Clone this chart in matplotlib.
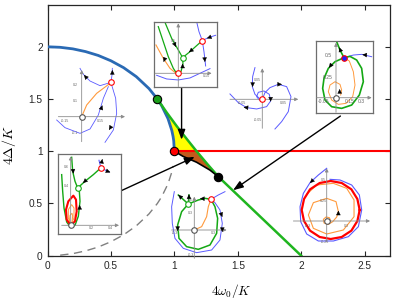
import numpy as np
import matplotlib.pyplot as plt

plt.rcParams['font.family'] = ['Liberation Sans', 'DejaVu Sans']
plt.rcParams['mathtext.fontset'] = 'cm'

W, H = 395, 300

# ---- main phase diagram, x = 4w0/K, y = 4Delta/K ----
hopf_x = [0.0, 0.1, 0.2, 0.3, 0.4, 0.5, 0.6, 0.7, 0.8, 0.866, 0.9, 0.95, 0.98, 0.99, 0.995, 1.0]
hopf_y = [2.0, 1.995, 1.98, 1.954, 1.917, 1.866, 1.8, 1.714, 1.6, 1.5, 1.436, 1.312, 1.199, 1.141, 1.1, 1.0]
dash_x = [0.1, 0.2, 0.3, 0.4, 0.5, 0.6, 0.7, 0.8, 0.866, 0.9, 0.95, 0.98, 0.99]
dash_y = [0.005, 0.02, 0.046, 0.083, 0.134, 0.2, 0.286, 0.4, 0.5, 0.564, 0.688, 0.801, 0.859]
sn_x = [0.866, 0.94, 1.02, 1.10, 1.175, 1.26, 1.348, 2.0]
sn_y = [1.5, 1.37, 1.238, 1.114, 1.0, 0.877, 0.755, 0.0]
hom_x = [1.0, 1.07, 1.175, 1.28, 1.348]
hom_y = [1.0, 0.95, 0.895, 0.82, 0.755]
red_x = [1.0, 2.7]
red_y = [1.0, 1.0]
dot_x = [0.866, 1.0, 1.348]
dot_y = [1.5, 1.0, 0.755]
dot_c = ['#1a9e1a', 'red', 'black']
arrow_tail = [(1.057, 1.611), (0.579, 0.621), (2.309, 1.337)]
arrow_head = [(1.057, 1.11), (1.161, 0.946), (1.463, 0.627)]
xt = [0, 0.5, 1, 1.5, 2, 2.5]
xt_lab = ['0', '0.5', '1', '1.5', '2', '2.5']
yt = [0, 0.5, 1, 1.5, 2]
yt_lab = ['0', '0.5', '1', '1.5', '2']

fig = plt.figure(figsize=(W / 100, H / 100), dpi=100)
ax = fig.add_axes([47.5 / W, 1 - 255.7 / H, 342.5 / W, 250.7 / H])

yel_x = hopf_x[9:] + [1.175] + sn_x[3:0:-1]
yel_y = hopf_y[9:] + [1.0] + sn_y[3:0:-1]
ax.fill(yel_x, yel_y, color='#ffff00', lw=0, zorder=1)
brn_x = [1.0] + sn_x[4:7] + hom_x[3:0:-1]
brn_y = [1.0] + sn_y[4:7] + hom_y[3:0:-1]
ax.fill(brn_x, brn_y, color='#c25a1c', lw=0, zorder=1)
ax.plot(dash_x, dash_y, color='#808080', lw=1, dashes=(6, 4), zorder=2)
ax.plot(red_x, red_y, color='red', lw=1.5, zorder=3)
ax.plot(hopf_x, hopf_y, color='#2a6ab4', lw=2, zorder=4)
ax.plot(sn_x, sn_y, color='#1fb51f', lw=1.8, zorder=4)
ax.plot(hom_x, hom_y, color='k', lw=1.2, zorder=4)
for x, y, c in zip(dot_x, dot_y, dot_c):
    ax.plot(x, y, 'o', ms=6, mfc=c, mec='k', mew=0.8, zorder=6)
for t, h in zip(arrow_tail, arrow_head):
    ax.annotate('', xy=h, xytext=t, zorder=5,
                arrowprops=dict(arrowstyle='-|>,head_length=0.6,head_width=0.22',
                                color='k', lw=1, mutation_scale=10, shrinkA=0, shrinkB=0))

ax.set_xlim(0, 2.7)
ax.set_ylim(0, 2.4)
ax.set_xticks(xt)
ax.set_xticklabels(xt_lab)
ax.set_yticks(yt)
ax.set_yticklabels(yt_lab)
ax.tick_params(direction='in', top=True, right=True, length=3.5, width=0.8,
               labelsize=7.3, colors='#262626', pad=3.5)
for s in ax.spines.values():
    s.set_linewidth(0.9)
    s.set_color('#262626')
ax.set_xlabel(r'$4\omega_0/K$', fontsize=9.5)
ax.xaxis.set_label_coords(0.538, -0.103)
ax.set_ylabel(r'$4\Delta/K$', fontsize=10)
ax.yaxis.set_label_coords(-0.085, 0.44)

# ---- phase-portrait insets (local phase-plane units) ----
S = 100 / 3  # pixels per inset unit
BLUE, GREEN, ORANGE = '#5a5aff', '#14a814', '#ff9a3c'


def inset(ox, oy, xl, yl, box=False):
    l, r = ox + xl[0] * S, ox + xl[1] * S
    t, b = oy - yl[1] * S, oy - yl[0] * S
    a = fig.add_axes([l / W, 1 - b / H, (r - l) / W, (b - t) / H])
    a.set_xlim(xl)
    a.set_ylim(yl)
    a.set_xticks([])
    a.set_yticks([])
    if box:
        for s in a.spines.values():
            s.set_color('#6e6e6e')
            s.set_linewidth(0.9)
    else:
        a.set_axis_off()
    return a


def frame(a, xr, yr):
    for tail, head in [((xr[0], 0), (xr[1], 0)), ((0, yr[0]), (0, yr[1]))]:
        a.annotate('', xy=head, xytext=tail,
                   arrowprops=dict(arrowstyle='-|>', color='#8c8c8c', lw=0.6,
                                   mutation_scale=5, shrinkA=0, shrinkB=0))


def heads(a, arrows):
    for x, y, dx, dy in arrows:
        a.annotate('', xy=(x + dx, y + dy), xytext=(x, y), zorder=6,
                   arrowprops=dict(arrowstyle='-|>', color='k', lw=0.3,
                                   mutation_scale=7, shrinkA=0, shrinkB=0))


def labels(a, items, size=2.6):
    for x, y, s in items:
        a.text(x, y, s, fontsize=size, color='#666666', ha='center', va='center')


def circ(a, x, y, c, fill='white'):
    a.plot(x, y, 'o', ms=4, mfc=fill, mec=c, mew=0.8, zorder=5)


# inset 1 (upper left)
i1_or_x = [0, 0.15, 0.45, 0.85]
i1_or_y = [0, 0.35, 0.70, 1.0]
i1_b1_x = [-0.05, 0.05, 0.25, 0.55, 0.88]
i1_b1_y = [1.45, 1.27, 1.07, 0.93, 1.03]
i1_b2_x = [0.88, 0.91, 0.92]
i1_b2_y = [1.03, 1.25, 1.45]
i1_b3_x = [0.90, 1.02, 1.05, 0.95, 0.70]
i1_b3_y = [0.95, 0.55, 0.10, -0.40, -0.77]
i1_b4_x = [-0.75, -0.50, -0.05, 0.25, 0.50, 0.65, 0.80]
i1_b4_y = [-0.10, -0.33, -0.50, -0.37, 0.05, 0.55, 0.90]

a1 = inset(81.67, 116.67, (-0.8, 1.35), (-0.85, 1.5))
frame(a1, (-0.70, 1.30), (-0.75, 1.40))
for xs, ys in [(i1_b1_x, i1_b1_y), (i1_b2_x, i1_b2_y), (i1_b3_x, i1_b3_y), (i1_b4_x, i1_b4_y)]:
    a1.plot(xs, ys, color=BLUE, lw=0.6)
a1.plot(i1_or_x, i1_or_y, color=ORANGE, lw=0.8)
circ(a1, 0, 0, '#555555')
circ(a1, 0.88, 1.03, 'red')
heads(a1, [(0.15, 1.16, -0.08, 0.09), (0.92, 1.28, 0, 0.12), (0.88, -0.30, -0.06, -0.1),
           (0.58, 0.22, 0.04, 0.12)])
labels(a1, [(-0.18, 0.95, '0.2'), (-0.18, 0.48, '0.1'), (-0.2, -0.50, '-0.1'),
            (-0.50, -0.13, '-0.15'), (0.55, -0.13, '0.15')])

# inset 2 (top, boxed)
i2_bb_x = [-0.65, -0.35, 0, 0.35, 0.65, 0.95]
i2_bb_y = [-0.06, -0.17, -0.20, -0.14, 0.0, 0.14]
i2_br_x = [0.55, 0.62, 0.72, 0.77, 0.80, 0.82]
i2_br_y = [1.55, 1.25, 0.98, 0.65, 0.40, 0.22]
i2_br2_x = [0.72, 0.9, 1.12]
i2_br2_y = [0.98, 1.07, 1.14]
i2_gl_x = [-0.60, -0.45, -0.30, -0.15, -0.03, 0.08, 0.14, 0.13]
i2_gl_y = [1.40, 0.95, 0.50, 0.15, -0.03, 0.05, 0.28, 0.47]
i2_gt_x = [-0.40, -0.20, 0.0, 0.13]
i2_gt_y = [1.53, 1.05, 0.70, 0.47]
i2_gr_x = [0.13, 0.35, 0.55, 0.72]
i2_gr_y = [0.47, 0.65, 0.83, 0.98]
i2_or_x = [-0.67, -0.45, -0.25, -0.07, 0]
i2_or_y = [0.85, 0.45, 0.15, 0.0, 0]

a2 = inset(178.3, 73.3, (-0.744, 1.146), (-0.41, 1.554), box=True)
frame(a2, (-0.70, 1.0), (-0.40, 1.50))
for xs, ys in [(i2_bb_x, i2_bb_y), (i2_br_x, i2_br_y), (i2_br2_x, i2_br2_y)]:
    a2.plot(xs, ys, color=BLUE, lw=0.7)
a2.plot(i2_or_x, i2_or_y, color=ORANGE, lw=0.8)
for xs, ys in [(i2_gl_x, i2_gl_y), (i2_gt_x, i2_gt_y), (i2_gr_x, i2_gr_y)]:
    a2.plot(xs, ys, color=GREEN, lw=0.9)
circ(a2, 0, 0, 'red')
circ(a2, 0.13, 0.47, GREEN)
circ(a2, 0.72, 0.98, 'red')
heads(a2, [(-0.40, 0.45, -0.04, -0.11), (-0.12, 0.9, 0.05, -0.11), (0.42, 0.71, -0.1, -0.08),
           (0.79, 0.45, 0.01, -0.11), (0.97, 1.09, -0.11, -0.04), (0.13, 0.18, 0, 0.11)])
labels(a2, [(-0.16, 0.98, '0.5'), (0.85, -0.08, '0.15')])

# inset 3 (spiral, unboxed)
i3_a_x = [-0.22, -0.29, -0.30, -0.22, -0.09, 0]
i3_a_y = [0.95, 0.68, 0.38, 0.15, 0.03, 0]
i3_b_x = [0.0, 0.08, 0.23, 0.48, 0.73, 0.86, 0.78, 0.58, 0.38]
i3_b_y = [0.0, 0.2, 0.35, 0.45, 0.38, 0.08, -0.37, -0.67, -0.89]
i3_c_x = [-0.97, -0.72, -0.47, -0.17, 0.13, 0.25, 0.21, 0.05, -0.12, -0.17, -0.09, 0]
i3_c_y = [0.16, -0.10, -0.25, -0.29, -0.22, -0.05, 0.15, 0.25, 0.21, 0.08, -0.02, 0]

a3 = inset(262.3, 99.3, (-1.0, 1.12), (-0.92, 0.98))
frame(a3, (-0.97, 1.08), (-0.87, 0.93))
for xs, ys in [(i3_a_x, i3_a_y), (i3_b_x, i3_b_y), (i3_c_x, i3_c_y)]:
    a3.plot(xs, ys, color=BLUE, lw=0.7)
circ(a3, 0, 0, 'red')
heads(a3, [(-0.29, 0.48, 0, -0.11), (0.48, 0.45, 0.11, 0), (-0.45, -0.25, -0.11, 0.01),
           (0.25, 0.04, 0.0, -0.11)])
labels(a3, [(-0.14, 0.58, '0.05'), (-0.14, -0.62, '-0.05'), (-0.62, -0.12, '-0.05'),
            (0.63, -0.12, '0.05')])

# inset 4 (right, boxed)
i4_gl_x = [0.24, -0.03, -0.23, -0.36, -0.40, -0.33, -0.13, 0.17, 0.47, 0.70, 0.82, 0.77, 0.62, 0.42, 0.24]
i4_gl_y = [1.20, 1.08, 0.88, 0.58, 0.28, -0.07, -0.27, -0.32, -0.22, 0.08, 0.48, 0.88, 1.13, 1.24, 1.20]
i4_gu_x = [0.24, 0.12, 0.02]
i4_gu_y = [1.20, 1.43, 1.68]
i4_b_x = [0.24, 0.52, 0.77, 1.07]
i4_b_y = [1.20, 1.28, 1.30, 1.23]
i4_or_x = [0.24, 0.40, 0.52, 0.57, 0.50, 0.30, 0.07, -0.13, -0.23, -0.18, -0.03, 0.12, 0.17, 0.14]
i4_or_y = [1.20, 1.10, 0.78, 0.38, 0.03, -0.17, -0.20, -0.07, 0.18, 0.38, 0.48, 0.40, 0.23, 0.08]

a4 = inset(336, 97.7, (-0.60, 1.11), (-0.46, 1.716), box=True)
frame(a4, (-0.58, 1.07), (-0.44, 1.65))
a4.plot(i4_b_x, i4_b_y, color=BLUE, lw=0.7)
a4.plot(i4_or_x, i4_or_y, color=ORANGE, lw=0.7)
a4.plot(i4_gl_x, i4_gl_y, color=GREEN, lw=1.2)
a4.plot(i4_gu_x, i4_gu_y, color=GREEN, lw=1.2)
circ(a4, 0, 0, '#555555')
circ(a4, 0.24, 1.20, 'red', fill='#2020ff')
heads(a4, [(-0.14, 0.99, -0.07, -0.09), (0.14, 1.40, -0.04, 0.11), (0.90, 1.28, -0.11, 0.01),
           (0.11, 0.15, 0.0, 0.11)])
labels(a4, [(-0.23, 1.28, '0.5'), (-0.25, 0.61, '0.25'), (-0.36, -0.10, '-0.05'),
            (0.40, -0.10, '0.15'), (0.76, -0.10, '0.3')], size=3.6)

# inset 5 (lower left, boxed)
i5_g1_x = [0.21, 0.43, 0.68, 0.88]
i5_g1_y = [1.12, 1.32, 1.52, 1.70]
i5_g2_x = [0.03, 0.06, 0.13, 0.21]
i5_g2_y = [2.04, 1.62, 1.32, 1.12]
i5_g3_x = [-0.27, -0.24, -0.20, -0.12, 0, 0.13, 0.23, 0.28, 0.26, 0.21]
i5_g3_y = [1.52, 1.02, 0.52, 0.10, -0.06, 0, 0.27, 0.72, 1.02, 1.12]
i5_r_x = [0, -0.12, -0.14, -0.07, 0.08, 0.16, 0.18, 0.13, 0]
i5_r_y = [0, 0.17, 0.47, 0.72, 0.89, 0.77, 0.42, 0.12, 0]
i5_o1_x = [0, -0.07, -0.07, 0.03, 0.10, 0.10, 0]
i5_o1_y = [0, 0.22, 0.47, 0.62, 0.52, 0.22, 0]
i5_o2_x = [0, -0.04, -0.02, 0.04, 0.06, 0.04, 0]
i5_o2_y = [0, 0.12, 0.30, 0.36, 0.28, 0.10, 0]
i5_b_x = [0.85, 0.91, 1.15]
i5_b_y = [1.95, 1.72, 1.60]

a5 = inset(70.67, 225.3, (-0.38, 1.51), (-0.27, 2.14), box=True)
frame(a5, (-0.27, 1.45), (-0.08, 2.07))
a5.plot(i5_b_x, i5_b_y, color=BLUE, lw=0.8)
a5.plot(i5_o1_x, i5_o1_y, color=ORANGE, lw=0.7)
a5.plot(i5_o2_x, i5_o2_y, color=ORANGE, lw=0.7)
for xs, ys in [(i5_g1_x, i5_g1_y), (i5_g2_x, i5_g2_y), (i5_g3_x, i5_g3_y)]:
    a5.plot(xs, ys, color=GREEN, lw=1.0)
a5.plot(i5_r_x, i5_r_y, color='red', lw=1.5)
circ(a5, 0, 0, '#555555')
circ(a5, 0.21, 1.12, GREEN)
circ(a5, 0.91, 1.72, 'red')
heads(a5, [(0.07, 1.66, 0.01, -0.11), (0.46, 1.35, -0.09, -0.08), (0.27, 0.50, 0, 0.11),
           (0.93, 1.88, 0.02, 0.11), (1.08, 1.63, 0.11, -0.04)])
labels(a5, [(0.63, -0.08, '0.2'), (1.18, -0.08, '0.4'), (-0.12, 1.75, '0.6'), (-0.12, 1.17, '0.4')])

# inset 6 (bottom middle, unboxed)
i6_gt_x = [-0.18, 0.12, 0.32, 0.50]
i6_gt_y = [0.78, 0.90, 0.95, 0.92]
i6_gl_x = [-0.18, -0.38, -0.50, -0.46, -0.23, 0.12, 0.47, 0.67, 0.70, 0.62, 0.50]
i6_gl_y = [0.78, 0.55, 0.15, -0.25, -0.50, -0.58, -0.45, -0.10, 0.35, 0.70, 0.92]
i6_gu_x = [-0.18, -0.16]
i6_gu_y = [0.78, 1.05]
i6_gul_x = [-0.18, -0.48]
i6_gul_y = [0.78, 1.05]
i6_b_x = [-0.60, -0.68, -0.66, -0.58, -0.33, 0.07, 0.52, 0.77, 0.84, 0.77, 0.62, 0.50]
i6_b_y = [1.15, 0.70, 0.20, -0.25, -0.55, -0.68, -0.60, -0.30, 0.20, 0.60, 0.82, 0.92]
i6_bt_x = [0.50, 0.72, 0.92]
i6_bt_y = [0.92, 1.05, 1.15]
i6_or_x = [0, 0.22, 0.37, 0.42, 0.50]
i6_or_y = [0, 0.10, 0.40, 0.70, 0.92]

a6 = inset(194.3, 230, (-0.75, 1.0), (-0.9, 1.2))
frame(a6, (-0.68, 0.97), (-0.85, 1.0))
a6.plot(i6_b_x, i6_b_y, color=BLUE, lw=0.7)
a6.plot(i6_bt_x, i6_bt_y, color=BLUE, lw=0.7)
a6.plot(i6_or_x, i6_or_y, color=ORANGE, lw=0.8)
for xs, ys in [(i6_gt_x, i6_gt_y), (i6_gl_x, i6_gl_y), (i6_gu_x, i6_gu_y), (i6_gul_x, i6_gul_y)]:
    a6.plot(xs, ys, color=GREEN, lw=1.1)
circ(a6, 0, 0, '#555555')
circ(a6, -0.18, 0.78, GREEN)
circ(a6, 0.50, 0.92, 'red')
heads(a6, [(-0.50, 0.08, 0, -0.11), (-0.16, 0.96, 0, 0.11), (-0.40, 0.98, -0.08, 0.07),
           (0.80, 0.50, 0.04, -0.11), (0.28, 0.94, -0.11, 0.0), (0.84, 0.05, 0, -0.11)])
labels(a6, [(-0.13, 0.90, '0.6'), (-0.13, 0.50, '0.3'), (-0.58, -0.08, '-0.3'),
            (0.58, -0.08, '0.3'), (-0.1, -0.75, '-0.3')])

# inset 7 (bottom right, limit cycle)
i7_r_x = [0.99, 0.92, 0.74, 0.45, 0.12, -0.21, -0.50, -0.68, -0.75, -0.68, -0.50, -0.21, 0.12, 0.45, 0.74, 0.92, 0.99]
i7_r_y = [0.33, 0.66, 0.95, 1.14, 1.20, 1.14, 0.95, 0.66, 0.33, 0.0, -0.29, -0.48, -0.54, -0.48, -0.29, 0.0, 0.33]
i7_b_x = [0.0, -0.25, -0.50, -0.70, -0.80, -0.78, -0.60, -0.25, 0.20, 0.65, 0.95, 1.05, 0.98, 0.75, 0.40, 0.10]
i7_b_y = [1.58, 1.38, 1.15, 0.83, 0.43, -0.02, -0.39, -0.60, -0.60, -0.47, -0.17, 0.33, 0.78, 1.08, 1.23, 1.25]
i7_or_x = [0.12, 0.08, -0.02, -0.10, -0.08, 0.05, 0.18, 0.30, 0.35, 0.28, 0.0, -0.40, -0.55, -0.40,
           0.0, 0.50, 0.82, 0.82, 0.60, 0.20, -0.30, -0.60]
i7_or_y = [0.0, 0.10, 0.12, 0.05, -0.06, -0.10, -0.02, 0.12, 0.28, 0.58, 0.68, 0.55, 0.18, -0.22,
           -0.39, -0.27, 0.13, 0.63, 0.98, 1.13, 1.08, 0.80]

a7 = inset(326.7, 221, (-1.05, 1.35), (-0.7, 1.62))
frame(a7, (-1.0, 1.30), (-0.62, 1.58))
a7.plot(i7_b_x, i7_b_y, color=BLUE, lw=0.8)
a7.plot(i7_or_x, i7_or_y, color=ORANGE, lw=0.8)
a7.plot(i7_r_x, i7_r_y, color='red', lw=1.6)
circ(a7, 0, 0, '#555555')
heads(a7, [(-0.42, 1.22, -0.08, -0.08), (0.35, 0.20, 0, 0.11)])
labels(a7, [(-0.1, 1.23, '0.5'), (-0.1, 0.61, '0.25'), (-0.05, -0.64, '-0.25'),
            (-0.55, -0.15, '-0.3'), (0.6, -0.15, '0.3')])

fig.savefig('out.png', dpi=100)
